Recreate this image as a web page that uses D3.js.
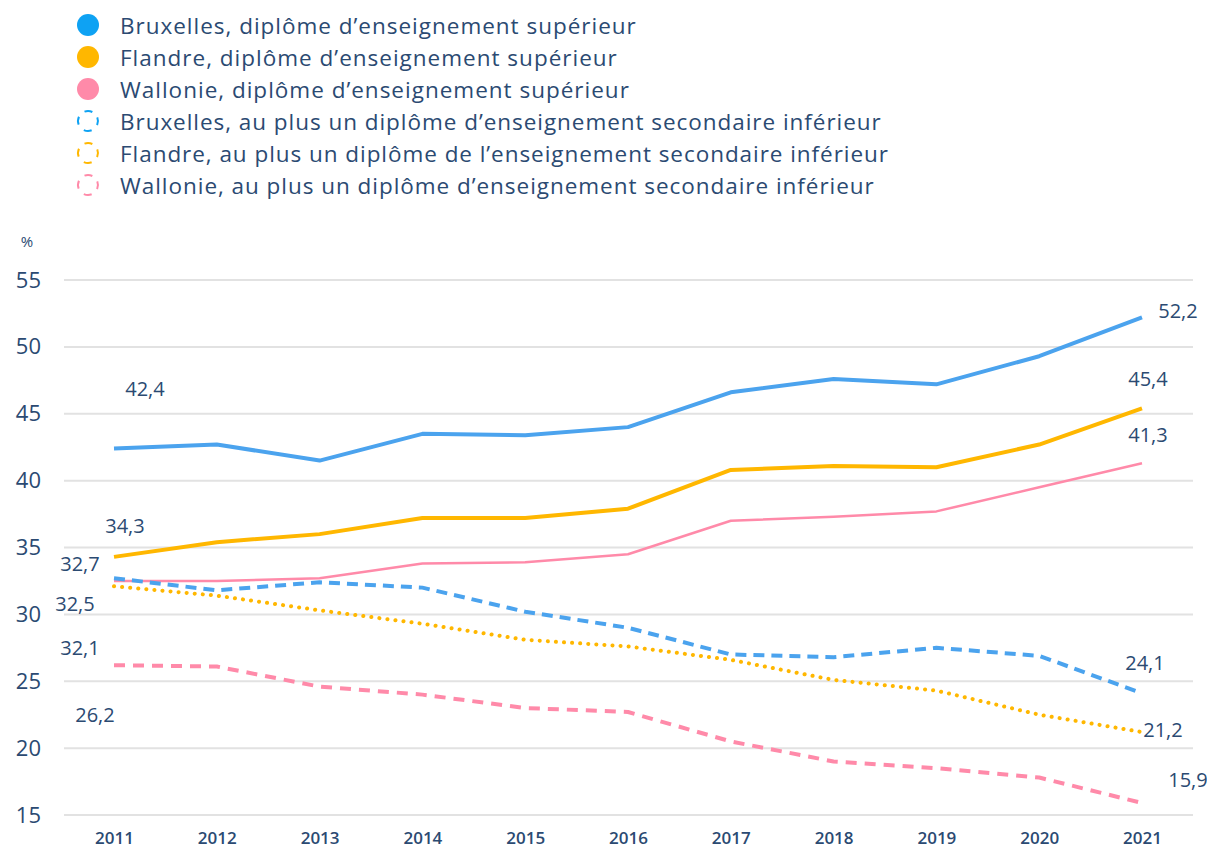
<!DOCTYPE html>
<html>
<head>
<meta charset="utf-8">
<script src="https://cdn.jsdelivr.net/npm/d3@7"></script>
<style>
  body { margin: 0; background: #fff; }
  text { font-family: "Open Sans", "Noto Sans", sans-serif; fill: #2b4a72; }
</style>
</head>
<body>
<div id="chart"></div>
<script>
// years and series values (%)
let years = [2011, 2012, 2013, 2014, 2015, 2016, 2017, 2018, 2019, 2020, 2021];
let bxlSup = [42.4, 42.7, 41.5, 43.5, 43.4, 44.0, 46.6, 47.6, 47.2, 49.3, 52.2];
let flaSup = [34.3, 35.4, 36.0, 37.2, 37.2, 37.9, 40.8, 41.1, 41.0, 42.7, 45.4];
let walSup = [32.5, 32.5, 32.7, 33.8, 33.9, 34.5, 37.0, 37.3, 37.7, 39.5, 41.3];
let bxlInf = [32.7, 31.8, 32.4, 32.0, 30.2, 29.0, 27.0, 26.8, 27.5, 26.9, 24.1];
let flaInf = [32.1, 31.4, 30.3, 29.3, 28.1, 27.6, 26.6, 25.1, 24.3, 22.5, 21.2];
let walInf = [26.2, 26.1, 24.6, 24.0, 23.0, 22.7, 20.5, 19.0, 18.5, 17.8, 15.9];
let yTicks = [15, 20, 25, 30, 35, 40, 45, 50, 55];
let names = [
  'Bruxelles, diplôme d’enseignement supérieur',
  'Flandre, diplôme d’enseignement supérieur',
  'Wallonie, diplôme d’enseignement supérieur',
  'Bruxelles, au plus un diplôme d’enseignement secondaire inférieur',
  'Flandre, au plus un diplôme de l’enseignement secondaire inférieur',
  'Wallonie, au plus un diplôme d’enseignement secondaire inférieur'
];

let blue = '#4ba3ee', yellow = '#ffb700', pink = '#ff8aa9';

// drawing styles per series (label offsets are in pixels from the end points)
let series = [
  {values: bxlSup, color: blue, legend: '#0ea2f3', width: 4, dash: null, first: [31, -60], last: [36, -7]},
  {values: flaSup, color: yellow, legend: yellow, width: 4, dash: null, first: [11, -31], last: [6, -30]},
  {values: walSup, color: pink, legend: pink, width: 2.5, dash: null, first: [-39, 23], last: [6, -29]},
  {values: bxlInf, color: blue, legend: '#0ea2f3', width: 4, dash: '11,7', first: [-34, -15], last: [3, -31]},
  {values: flaInf, color: yellow, legend: yellow, width: 4, dash: '0.1,8', cap: 'round', first: [-34, 61], last: [21, -3]},
  {values: walInf, color: pink, legend: pink, width: 4, dash: '11,8', first: [-19, 49], last: [46, -23]}
];

let W = 1207, H = 854;
let svg = d3.select('#chart').append('svg')
  .attr('width', W)
  .attr('height', H);

let x = d3.scalePoint().domain(years).range([114, 1142]);
let y = d3.scaleLinear().domain([15, 55]).range([815, 280]);

// grid
svg.append('g')
  .selectAll('line')
  .data(yTicks)
  .join('line')
    .attr('x1', 64)
    .attr('x2', 1193)
    .attr('y1', d => y(d))
    .attr('y2', d => y(d))
    .attr('stroke', '#e2e2e2')
    .attr('stroke-width', 2);

// y axis labels
let yAxis = svg.append('g')
  .attr('transform', 'translate(41,0)')
  .call(d3.axisLeft(y).tickValues(yTicks).tickSize(0).tickPadding(0));
yAxis.select('.domain').remove();
yAxis.selectAll('text')
  .style('font-size', '22px')
  .style('font-weight', '500')
  .style('font-family', '"Open Sans", sans-serif')
  .attr('fill', '#2b4a72');

// x axis labels
let xAxis = svg.append('g')
  .attr('transform', 'translate(0,832)')
  .call(d3.axisBottom(x).tickSize(0).tickPadding(0));
xAxis.select('.domain').remove();
xAxis.selectAll('text')
  .style('font-size', '17px')
  .style('font-weight', '600')
  .style('font-family', '"Open Sans", sans-serif')
  .attr('fill', '#2b4a72');

svg.append('text')
  .attr('x', 27)
  .attr('y', 247)
  .attr('text-anchor', 'middle')
  .style('font-size', '15px')
  .text('%');

// lines
let line = d3.line()
  .x((d, i) => x(years[i]))
  .y(d => y(d));

series.forEach(function(s) {
  svg.append('path')
    .datum(s.values)
    .attr('d', line)
    .attr('fill', 'none')
    .attr('stroke', s.color)
    .attr('stroke-width', s.width)
    .attr('stroke-dasharray', s.dash)
    .attr('stroke-linecap', s.cap || 'butt')
    .attr('stroke-linejoin', 'round');
});

// end labels
let fmt = v => d3.format('.1f')(v).replace('.', ',');
series.forEach(function(s) {
  let n = s.values.length - 1;
  [[0, s.first], [n, s.last]].forEach(function(p) {
    let i = p[0], off = p[1];
    svg.append('text')
      .attr('x', x(years[i]) + off[0])
      .attr('y', y(s.values[i]) + off[1])
      .attr('text-anchor', 'middle')
      .attr('dominant-baseline', 'central')
      .style('font-size', '20px')
      .style('font-weight', '500')
      .text(fmt(s.values[i]));
  });
});

// legend
let legend = svg.append('g');
let legendTexts = [];
names.forEach(function(name, i) {
  let s = series[i];
  let cy = 25 + i * 32;
  if (s.dash == null) {
    legend.append('circle')
      .attr('cx', 88).attr('cy', cy).attr('r', 11)
      .attr('fill', s.legend);
  } else {
    legend.append('circle')
      .attr('cx', 88).attr('cy', cy).attr('r', 10)
      .attr('fill', 'none')
      .attr('stroke', s.legend)
      .attr('stroke-width', 2)
      .attr('stroke-dasharray', '8,7.7')
      .attr('transform', 'rotate(-22,88,' + cy + ')');
  }
  legendTexts.push(legend.append('text')
    .attr('x', 120)
    .attr('y', cy)
    .attr('dominant-baseline', 'central')
    .style('font-size', '22.5px')
    .style('font-weight', '500')
    .text(name));
});

// the original font is wider: stretch the spacing to the same line lengths
let longest = d3.max(legendTexts, t => t.node().getComputedTextLength());
let stretch = 768 / longest;
legendTexts.forEach(function(t) {
  let w = t.node().getComputedTextLength();
  t.attr('textLength', w * stretch).attr('lengthAdjust', 'spacing');
});
</script>
</body>
</html>
